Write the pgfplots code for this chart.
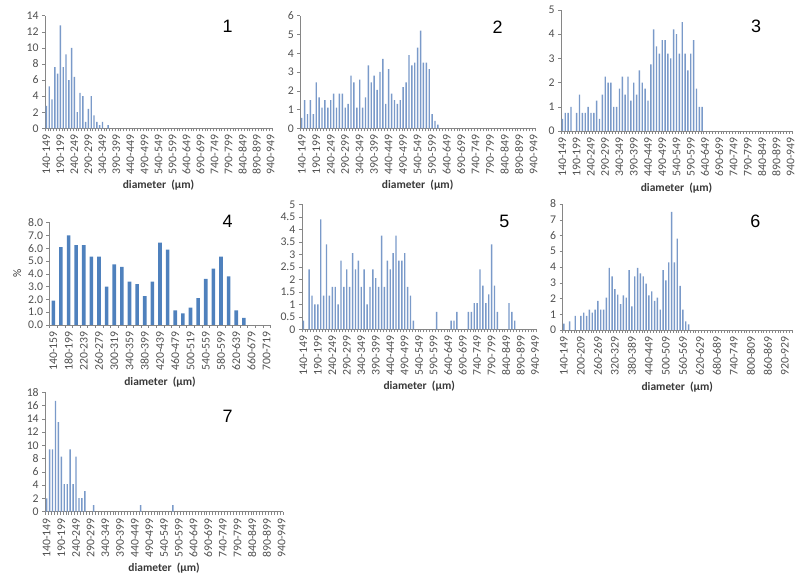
\documentclass[border=0pt]{standalone}
\usepackage{fontspec}
\setmainfont{Carlito}
\newfontfamily\numfont{Liberation Sans}
\usepackage{pgfplots}
\pgfplotsset{compat=1.18}
\definecolor{axgray}{RGB}{134,134,134}
\definecolor{txtgray}{RGB}{80,80,80}
\definecolor{barlight}{RGB}{122,154,201}
\definecolor{bardark}{RGB}{79,129,189}
\pgfplotsset{
  exc/.style={
    scale only axis,
    axis x line*=bottom, axis y line*=left,
    axis line style={axgray, line width=0.6pt},
    ymin=0, enlargelimits=false,
    tick align=outside,
    major x tick style={draw=none},
    minor x tick style={axgray, line width=0.4pt},
    y tick style={axgray, line width=0.5pt},
    minor tick length=3bp,
    major tick length=3bp,
    tick label style={font=\fontsize{11.8}{13}\selectfont, text=txtgray},
    x tick label style={rotate=90, anchor=east},
    /pgf/number format/assume math mode=true,
    xlabel={diameter\ \ (µm)},
    xlabel style={font=\fontsize{11.5}{13}\selectfont\bfseries, text=txtgray!70!black, yshift=1bp},
    ybar, bar width=1.4bp,
  },
  cat81/.style={
    xmin=-0.5, xmax=80.5,
    minor xtick={-0.5,0.5,...,80.5},
    xtick={0,5,...,80},
    xticklabels={140-149,190-199,240-249,290-299,340-349,390-399,440-449,490-499,540-549,590-599,640-649,690-699,740-749,790-799,840-849,890-899,940-949},
  },
  thinbar/.style={fill=barlight, draw=none},
}
\begin{document}
\begin{tikzpicture}
\path[use as bounding box] (0,0) rectangle (795bp,574bp);

% Panel 1
\begin{axis}[exc, cat81, at={(45bp,445.7bp)}, anchor=south west,
  width=227bp, height=112.6bp, ymax=14, ytick={0,2,...,14}]
\addplot[thinbar] coordinates {(0,2.8)(1,5.2)(2,3.6)(3,7.6)(4,6.8)(5,12.8)(6,7.6)(7,9.2)(8,6.0)(9,10.0)(10,6.4)(11,2.0)(12,4.4)(13,4.0)(14,0.8)(15,2.4)(16,4.0)(17,1.6)(18,0.8)(19,0.4)(20,0.8)(22,0.4)};
\end{axis}

% Panel 2
\begin{axis}[exc, cat81, at={(300.3bp,445.7bp)}, anchor=south west,
  width=234.7bp, height=112.6bp, ymax=6, ytick={0,1,...,6}]
\addplot[thinbar] coordinates {(0,0.55)(1,1.5)(2,0.75)(3,1.5)(4,0.75)(5,2.45)(6,1.65)(7,1.1)(8,1.5)(9,1.1)(10,1.5)(11,1.85)(12,1.1)(13,1.85)(14,1.85)(15,1.1)(16,1.3)(17,2.8)(18,2.45)(19,1.1)(20,2.6)(21,1.1)(22,1.65)(23,3.35)(24,2.45)(25,2.8)(26,2.05)(27,3.0)(28,3.7)(29,1.3)(30,3.15)(31,1.85)(32,1.5)(33,1.3)(34,1.5)(35,2.2)(36,2.45)(37,3.9)(38,3.35)(39,3.5)(40,4.3)(41,5.2)(42,3.5)(43,3.5)(44,3.15)(45,0.75)(46,0.4)(47,0.2)};
\end{axis}

% Panel 3
\begin{axis}[exc, cat81, at={(561bp,443bp)}, anchor=south west,
  width=231bp, height=121bp, ymax=5, ytick={0,1,...,5}]
\addplot[thinbar] coordinates {(0,0.5)(1,0.75)(2,0.75)(3,1.0)(5,0.75)(6,1.5)(7,0.75)(8,0.75)(9,1.0)(10,0.75)(11,0.75)(12,1.25)(13,0.5)(14,1.5)(15,2.25)(16,2.0)(17,2.0)(18,1.0)(19,1.0)(20,1.75)(21,2.25)(22,1.5)(23,2.25)(24,1.25)(25,2.0)(26,1.5)(27,2.5)(28,2.0)(29,1.75)(30,1.25)(31,2.75)(32,4.2)(33,3.5)(34,3.2)(35,3.75)(36,3.75)(37,3.2)(38,3.0)(39,4.2)(40,4.0)(41,3.2)(42,4.5)(43,3.2)(44,2.5)(45,3.2)(46,3.75)(47,1.75)(48,1.0)(49,1.0)};
\end{axis}

% Panel 4
\begin{axis}[exc, at={(49.5bp,249bp)}, anchor=south west,
  width=221bp, height=102.3bp, ymax=8, ytick={0,1,...,8},
  xmin=-0.5, xmax=28.5, minor xtick={-0.5,0.5,...,28.5}, xtick={0,2,...,28},
  xticklabels={140-159,180-199,220-239,260-279,300-319,340-359,380-399,420-439,460-479,500-519,540-559,580-599,620-639,660-679,700-719},
  yticklabel style={/pgf/number format/.cd, fixed, fixed zerofill, precision=1},
  ylabel={\%}, ylabel style={font=\fontsize{11.5}{13}\selectfont, text=txtgray!70!black},
  bar width=3.6bp]
\addplot[fill=bardark, draw=none] coordinates {(0,1.9)(1,6.1)(2,7.0)(3,6.25)(4,6.25)(5,5.35)(6,5.35)(7,3.0)(8,4.75)(9,4.55)(10,3.4)(11,3.2)(12,2.25)(13,3.4)(14,6.45)(15,5.9)(16,1.15)(17,0.9)(18,1.35)(19,2.1)(20,3.6)(21,4.4)(22,5.35)(23,3.8)(24,1.15)(25,0.55)};
\end{axis}

% Panel 5
\begin{axis}[exc, cat81, at={(301.9bp,244.7bp)}, anchor=south west,
  width=234.6bp, height=125bp, ymax=5, ytick={0,0.5,...,5}]
\addplot[thinbar] coordinates {(0,0.35)(2,2.4)(3,1.35)(4,1.0)(5,1.0)(6,4.4)(7,1.35)(8,3.4)(9,1.35)(10,1.7)(11,1.7)(12,1.0)(13,2.75)(14,1.7)(15,2.4)(16,1.7)(17,3.05)(18,2.4)(19,2.75)(20,1.7)(21,2.4)(22,1.0)(23,1.7)(24,2.4)(25,2.05)(26,1.7)(27,3.75)(28,1.7)(29,2.75)(30,2.4)(31,3.05)(32,3.75)(33,2.75)(34,2.75)(35,3.05)(36,1.7)(37,1.35)(38,0.35)(46,0.7)(51,0.35)(52,0.35)(53,0.7)(57,0.7)(58,0.7)(59,1.05)(60,1.05)(61,2.4)(62,1.75)(63,1.05)(64,1.4)(65,3.4)(66,1.75)(67,0.7)(71,1.05)(72,0.7)(73,0.35)};
\end{axis}

% Panel 6
\begin{axis}[exc, at={(562.5bp,244bp)}, anchor=south west,
  width=229.5bp, height=126bp, ymax=8, ytick={0,1,...,8},
  xmin=-0.5, xmax=80.5, minor xtick={-0.5,0.5,...,80.5}, xtick={0,6,...,78},
  xticklabels={140-149,200-209,260-269,320-329,380-389,440-449,500-509,560-569,620-629,680-689,740-749,800-809,860-869,920-929}]
\addplot[thinbar] coordinates {(0,0.4)(2,0.55)(4,0.9)(6,0.9)(7,1.1)(8,0.9)(9,1.3)(10,1.1)(11,1.3)(12,1.85)(13,1.3)(14,1.3)(15,2.05)(16,3.95)(17,3.4)(18,2.6)(19,2.25)(20,1.65)(21,2.2)(22,2.05)(23,3.8)(24,1.5)(25,3.4)(26,3.95)(27,3.6)(28,3.4)(29,2.95)(30,2.2)(31,2.45)(32,1.85)(33,2.05)(34,1.3)(35,3.8)(36,3.15)(37,4.3)(38,7.5)(39,4.3)(40,5.8)(41,2.8)(42,1.3)(43,0.55)(44,0.35)};
\end{axis}

% Panel 7
\begin{axis}[exc, cat81, at={(45.2bp,62.3bp)}, anchor=south west,
  width=237.8bp, height=119.4bp, ymax=18, ytick={0,2,...,18}]
\addplot[thinbar] coordinates {(0,2.0)(1,9.4)(2,9.4)(3,16.7)(4,13.5)(5,8.3)(6,4.15)(7,4.15)(8,9.4)(9,4.15)(10,8.3)(11,2.05)(12,2.05)(13,3.1)(16,1.0)(32,1.0)(43,1.0)};
\end{axis}

\begin{scope}[every node/.style={font=\numfont\fontsize{18}{20}\selectfont}]
\node at (227.7bp,547.3bp) {1};
\node at (497.7bp,546.7bp) {2};
\node at (756bp,547.3bp) {3};
\node at (227.7bp,352.3bp) {4};
\node at (504.3bp,352.3bp) {5};
\node at (755.3bp,352.3bp) {6};
\node at (227.7bp,157.3bp) {7};
\end{scope}
\end{tikzpicture}
\end{document}
